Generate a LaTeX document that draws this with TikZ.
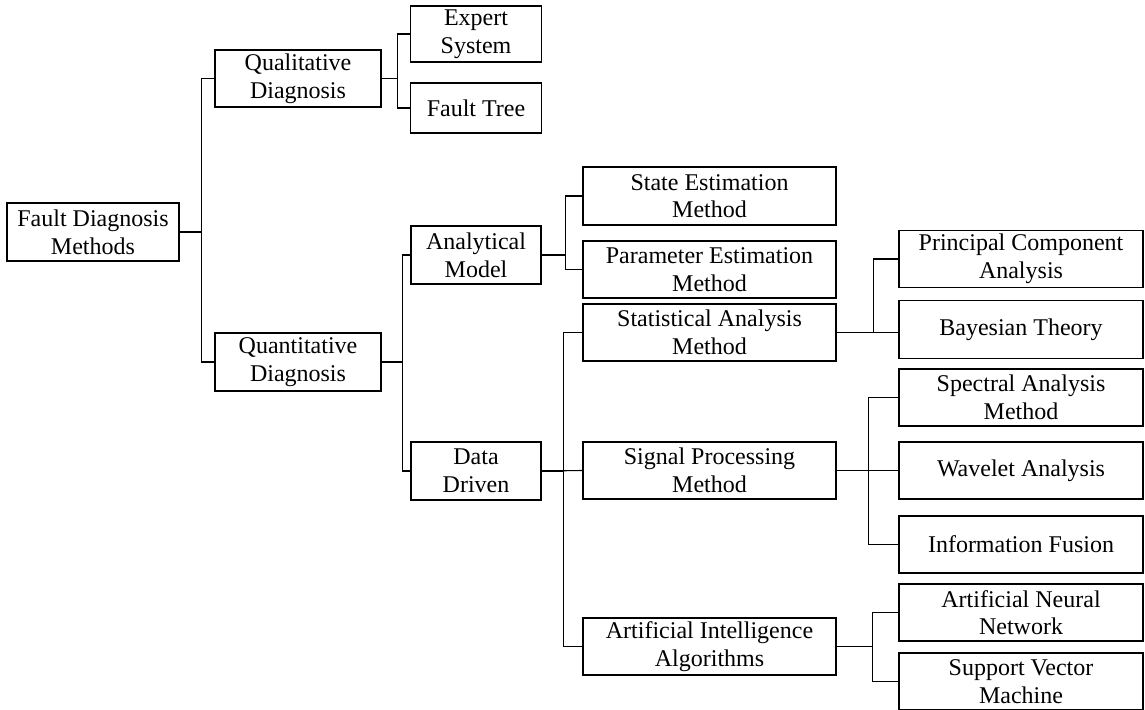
\documentclass[tikz,border=0pt]{standalone}
\usepackage{fontspec}
\setmainfont{Liberation Serif}
\begin{document}
\begin{tikzpicture}[x=1pt,y=-1pt,
  box/.style={draw, line width=1.1pt, rectangle, inner sep=0pt, align=center,
    font=\fontsize{24}{27.6}\selectfont},
  link/.style={line width=1.1pt}]
\useasboundingbox (0,0) rectangle (1145,709);
% column 1
\node[box, minimum width=172, minimum height=58] (fdm) at (93,232) {Fault Diagnosis\\Methods};
% column 2
\node[box, minimum width=166, minimum height=57] (qual) at (298,78.5) {Qualitative\\Diagnosis};
\node[box, minimum width=166, minimum height=58] (quant) at (298,362) {Quantitative\\Diagnosis};
% column 3
\node[box, minimum width=131, minimum height=56] (expert) at (476,34) {Expert\\System};
\node[box, minimum width=131, minimum height=50] (ftree) at (476,108) {Fault Tree};
\node[box, minimum width=130, minimum height=58] (anal) at (476,255) {Analytical\\Model};
\node[box, minimum width=130, minimum height=58] (dd) at (476,471) {Data\\Driven};
% column 4
\node[box, minimum width=253, minimum height=58] (state) at (709.5,196) {State Estimation\\Method};
\node[box, minimum width=253, minimum height=57] (param) at (709.5,269.5) {Parameter Estimation\\Method};
\node[box, minimum width=253, minimum height=57] (stat) at (709.5,332.5) {Statistical Analysis\\Method};
\node[box, minimum width=253, minimum height=57] (sig) at (709.5,470.5) {Signal Processing\\Method};
\node[box, minimum width=253, minimum height=57] (ai) at (709.5,646.5) {Artificial Intelligence\\Algorithms};
% column 5
\node[box, minimum width=244, minimum height=57] (pca) at (1021,259) {Principal Component\\Analysis};
\node[box, minimum width=244, minimum height=58] (bayes) at (1021,329.5) {Bayesian Theory};
\node[box, minimum width=244, minimum height=57] (spec) at (1021,397.5) {Spectral Analysis\\Method};
\node[box, minimum width=244, minimum height=57] (wav) at (1021,470.5) {Wavelet Analysis};
\node[box, minimum width=244, minimum height=57] (info) at (1021,544.5) {Information Fusion};
\node[box, minimum width=244, minimum height=57] (ann) at (1021,612.5) {Artificial Neural\\Network};
\node[box, minimum width=244, minimum height=57] (svm) at (1021,681.5) {Support Vector\\Machine};
% connectors
\draw[link] (fdm.east) -- ++(22,0) |- (qual.west);
\draw[link] (fdm.east) -- ++(22,0) |- (quant.west);
\draw[link] (qual.east) -- ++(16,0) |- (expert.west);
\draw[link] (qual.east) -- ++(16,0) |- (ftree.west);
\draw[link] (quant.east) -- ++(21,0) |- (anal.west);
\draw[link] (quant.east) -- ++(21,0) |- (dd.west);
\draw[link] (anal.east) -- ++(24,0) |- (state.west);
\draw[link] (anal.east) -- ++(24,0) |- (param.west);
\draw[link] (dd.east) -- ++(22,0) |- (stat.west);
\draw[link] (dd.east) -- (sig.west);
\draw[link] (dd.east) -- ++(22,0) |- (ai.west);
\draw[link] (stat.east) -- ++(37,0) |- (pca.west);
\draw[link] (stat.east) -- (stat.east -| bayes.west);
\draw[link] (sig.east) -- ++(32,0) |- (spec.west);
\draw[link] (sig.east) -- (wav.west);
\draw[link] (sig.east) -- ++(32,0) |- (info.west);
\draw[link] (ai.east) -- ++(36,0) |- (ann.west);
\draw[link] (ai.east) -- ++(36,0) |- (svm.west);
\end{tikzpicture}
\end{document}
